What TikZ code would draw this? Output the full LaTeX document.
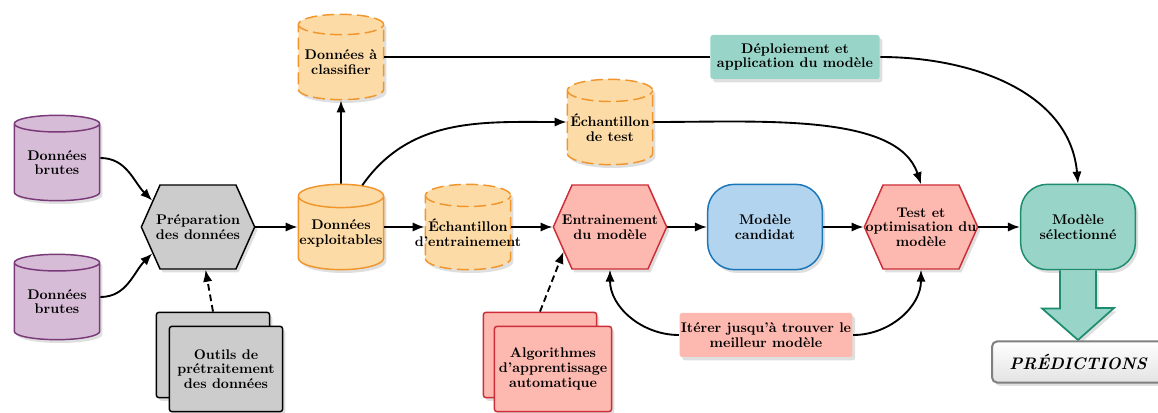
\documentclass[tikz,border=0pt]{standalone}
\usepackage{tikz}
\usetikzlibrary{positioning,calc,shapes.geometric,shapes.symbols,shapes.misc,arrows.meta,shadows}

\definecolor{brutfill}{RGB}{214,188,214}
\definecolor{brutline}{RGB}{122,58,122}
\definecolor{grisfill}{RGB}{204,204,204}
\definecolor{orfill}{RGB}{253,219,166}
\definecolor{orline}{RGB}{240,150,45}
\definecolor{rosefill}{RGB}{253,184,176}
\definecolor{roseline}{RGB}{205,45,55}
\definecolor{bleufill}{RGB}{178,212,238}
\definecolor{bleuline}{RGB}{25,118,185}
\definecolor{vertfill}{RGB}{152,213,200}
\definecolor{vertline}{RGB}{30,140,110}

% ligne plus large que sa forme
\newcommand{\etroit}[1]{\makebox[50pt]{#1}}

\tikzset{
  base/.style={align=center, font=\fontsize{10.5}{11}\selectfont\bfseries, line width=1.1pt,
    drop shadow={opacity=0.25,shadow xshift=2pt,shadow yshift=-2.5pt}},
  cyl/.style={base, cylinder, shape border rotate=90, aspect=0.28, anchor=shape center,
    minimum width=64pt, minimum height=64pt, inner sep=0pt},
  brut/.style={cyl, draw=brutline, fill=brutfill},
  orcyl/.style={cyl, draw=orline, fill=orfill},
  ordash/.style={orcyl, dash pattern=on 9pt off 4pt},
  hexa/.style={base, signal, signal to=east and west, signal pointer angle=132,
    minimum width=85pt, minimum height=63pt, inner sep=0pt},
  arrondi/.style={base, rectangle, rounded corners=20pt, minimum width=86pt, minimum height=64pt},
  boite/.style={base, rectangle, rounded corners=2pt, minimum width=127pt, minimum height=33pt, inner sep=1pt},
  pile/.style={base, rectangle, rounded corners=2pt, minimum width=85pt, minimum height=64pt},
  fleche/.style={line width=1.4pt, -{Latex[length=9pt,width=7pt]}},
  tiret/.style={fleche, dash pattern=on 5pt off 3pt}
}

\begin{document}
\begin{tikzpicture}[x=0.75pt,y=-0.75pt]
\useasboundingbox (0,0) rectangle (1158,413);

% sources
\node[brut] (brut1) at (57,158) {Données\\brutes};
\node[brut] (brut2) at (57,297) {Données\\brutes};
\node[hexa, draw=black, fill=grisfill] (prep) at (198,227) {\etroit{Préparation}\\\etroit{des données}};
\node[pile, draw=black, fill=grisfill] (outilsfond) at (213,355) {};
\node[pile, draw=black, fill=grisfill] (outils) at (226,369) {Outils de\\prétraitement\\des données};

% donnees
\node[orcyl] (expl) at (341,227) {Données\\exploitables};
\node[ordash] (classif) at (341,57) {Données à\\classifier};
\node[ordash] (echtest) at (610,122) {Échantillon\\de test};
\node[ordash] (echentr) at (468,227) {Échantillon\\\etroit{d'entrainement}};

% modele
\node[hexa, draw=roseline, fill=rosefill] (entr) at (610,227) {\etroit{Entrainement}\\du modèle};
\node[pile, draw=roseline, fill=rosefill] (algofond) at (540,355) {};
\node[pile, draw=roseline, fill=rosefill] (algo) at (553,369) {Algorithmes\\d'apprentissage\\automatique};
\node[arrondi, draw=bleuline, fill=bleufill] (cand) at (765,227) {Modèle\\candidat};
\node[hexa, draw=roseline, fill=rosefill] (optim) at (921,227) {Test et\\\etroit{optimisation du}\\modèle};
\node[arrondi, draw=vertline, fill=vertfill] (selec) at (1078,227) {Modèle\\sélectionné};
\node[boite, fill=rosefill] (iter) at (766,335) {Itérer jusqu'à trouver le\\meilleur modèle};
\node[boite, fill=vertfill] (deploi) at (795,57) {Déploiement et\\application du modèle};

% predictions
\draw[base, draw=vertline, fill=vertfill, line width=1.3pt]
  ($(selec.south)+(-18,0)$) -- ++(0,38) -- ++(-18,0) -- (1078,340) -- (1114,308) -- ++(-18,0) -- ($(selec.south)+(18,0)$);
\node[base, draw=gray, line width=1.5pt, rounded corners=4pt, top color=white, bottom color=gray!22,
  minimum width=129pt, minimum height=31pt, font=\fontsize{12.5}{15}\selectfont\bfseries\itshape] (pred) at (1078,362) {PRÉDICTIONS};

% connecteurs
\draw[fleche] (brut1.shape center -| brut1.east) to[out=0,in=135] (prep.150);
\draw[fleche] (brut2.shape center -| brut2.east) to[out=0,in=225] (prep.210);
\draw[tiret] (outilsfond.north) -- (prep.-80);
\draw[fleche] (prep.east) -- (prep.east -| expl.west);
\draw[fleche] (expl.north) -- (classif.south);
\draw[fleche] (expl.66) to[out=55,in=180] (echtest.shape center -| echtest.west);
\draw[fleche] (expl.shape center -| expl.east) -- (echentr.shape center -| echentr.west);
\draw[fleche] (echentr.shape center -| echentr.east) -- (entr.west);
\draw[tiret] (algofond.north) -- (entr.208);
\draw[fleche] (entr.east) -- (cand.west);
\draw[fleche] (cand.east) -- (optim.west);
\draw[fleche] (optim.east) -- (selec.west);
\draw[line width=1.4pt] (classif.shape center -| classif.east) -- (deploi.west);
\draw[fleche] (deploi.east) to[out=0,in=95] (selec.north);
\draw[fleche] (echtest.shape center -| echtest.east) to[out=0,in=108,out looseness=1,in looseness=0.7] (optim.north);
\draw[fleche] (iter.west) to[out=180,in=-90] (entr.south);
\draw[fleche] (iter.east) to[out=0,in=-90] (optim.south);
\end{tikzpicture}
\end{document}
